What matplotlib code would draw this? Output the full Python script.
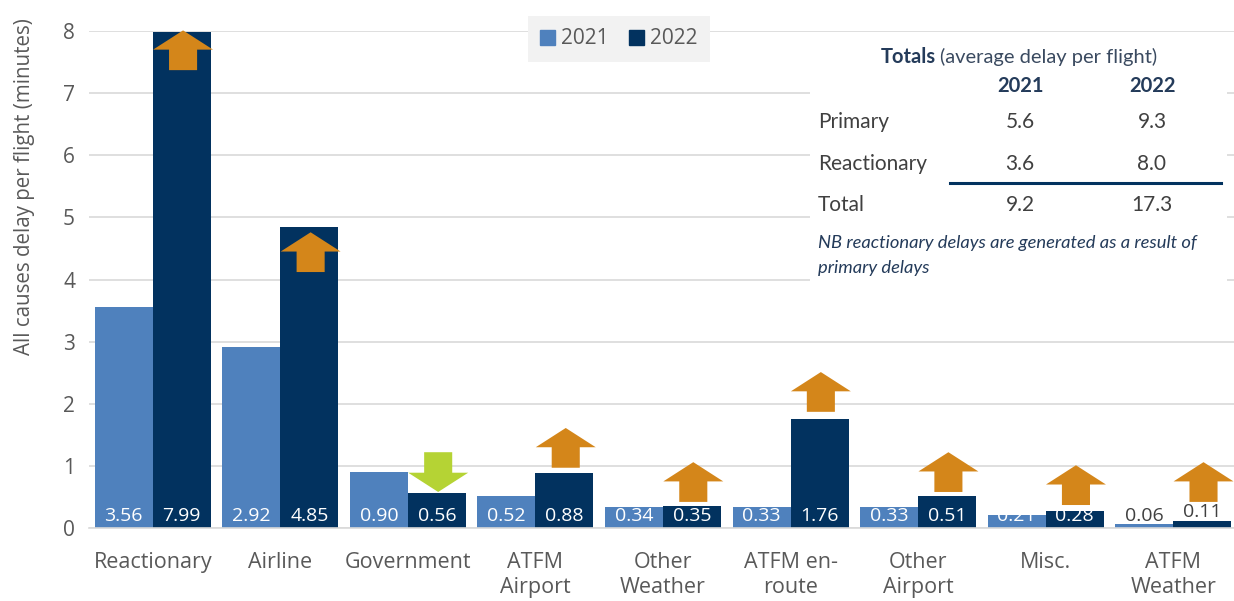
import numpy as np
import matplotlib
matplotlib.use("Agg")
import matplotlib.pyplot as plt
from matplotlib.patches import Polygon, Rectangle, Patch

categories = ["Reactionary", "Airline", "Government", "ATFM\nAirport", "Other\nWeather",
              "ATFM en-\nroute", "Other\nAirport", "Misc.", "ATFM\nWeather"]
delay_2021 = [3.56, 2.92, 0.90, 0.52, 0.34, 0.33, 0.33, 0.21, 0.06]
delay_2022 = [7.99, 4.85, 0.56, 0.88, 0.35, 1.76, 0.51, 0.28, 0.11]
# base of each change arrow (minutes) and its direction
arrow_base = [7.37, 4.12, 1.22, 0.97, 0.42, 1.87, 0.58, 0.37, 0.42]
arrow_dir = ["up", "up", "down", "up", "up", "up", "up", "up", "up"]

totals_rows = ["Primary", "Reactionary", "Total"]
totals_2021 = ["5.6", "3.6", "9.2"]
totals_2022 = ["9.3", "8.0", "17.3"]

C21 = "#4F81BD"
C22 = "#02325F"
UP = "#D4861A"
DOWN = "#B5D334"
GREY = "#595959"
INK = "#243B5A"

plt.rcParams["font.family"] = ["Open Sans", "DejaVu Sans"]

W, H = 1234, 601
fig = plt.figure(figsize=(W / 100, H / 100), dpi=100)


def fx(px):
    return px / W


def fy(py):
    return 1 - py / H


ax = fig.add_axes([fx(89), fy(528), fx(1237 - 89), (528 - 31) / H])

x = np.arange(len(categories))
bw = 0.455
ax.bar(x - bw / 2, delay_2021, bw, color=C21, zorder=2, label="2021")
ax.bar(x + bw / 2, delay_2022, bw, color=C22, zorder=2, label="2022")

for i, (a, b) in enumerate(zip(delay_2021, delay_2022)):
    small = b < 0.2
    col = "#404040" if small else "white"
    ax.text(i - bw / 2, 0.2, f"{a:.2f}", ha="center", va="center", color=col, fontsize=14, zorder=4)
    ax.text(i + bw / 2, 0.26 if small else 0.2, f"{b:.2f}", ha="center", va="center",
            color=col, fontsize=14, zorder=4)

# block arrows showing the change from 2021 to 2022
hw, sw, hh, th = 0.235, 0.11, 0.31, 0.64
for i, (base, d) in enumerate(zip(arrow_base, arrow_dir)):
    cx = i + bw / 2 + 0.01
    if d == "up":
        pts = [(cx - sw, base), (cx + sw, base), (cx + sw, base + th - hh), (cx + hw, base + th - hh),
               (cx, base + th), (cx - hw, base + th - hh), (cx - sw, base + th - hh)]
        col = UP
    else:
        pts = [(cx - sw, base), (cx + sw, base), (cx + sw, base - th + hh), (cx + hw, base - th + hh),
               (cx, base - th), (cx - hw, base - th + hh), (cx - sw, base - th + hh)]
        col = DOWN
    ax.add_patch(Polygon(pts, closed=True, facecolor=col, edgecolor="none", zorder=3, clip_on=False))

ax.set_xlim(-0.5, 8.5)
ax.set_ylim(0, 8)
ax.set_yticks(range(0, 9))
ax.set_xticks(x)
ax.set_xticklabels(categories, fontsize=15.5, color=GREY, linespacing=1.3)
ax.tick_params(axis="y", labelsize=15, colors=GREY, length=0, pad=10)
ax.tick_params(axis="x", length=0, pad=17)
ax.grid(axis="y", color="#D9D9D9", linewidth=1.2, zorder=0)
for s in ["top", "right", "left"]:
    ax.spines[s].set_visible(False)
ax.spines["bottom"].set_color("#D9D9D9")
ax.spines["bottom"].set_linewidth(1.2)
ax.set_ylabel("All causes delay per flight (minutes)", fontsize=14.8, color=GREY)
ax.yaxis.set_label_coords(-0.047, 0.686)

leg = ax.legend(handles=[Patch(color=C21, label="2021"), Patch(color=C22, label="2022")],
                ncol=2, loc="center", bbox_to_anchor=(fx(619), fy(39)), bbox_transform=fig.transFigure,
                fontsize=15, frameon=True, facecolor="#F2F2F2", edgecolor="none", fancybox=False,
                handlelength=0.7, handleheight=0.7, handletextpad=0.3, columnspacing=1.0,
                borderpad=0.6, labelcolor=GREY)
leg.get_frame().set_alpha(1)
leg.set_zorder(6)

# totals panel
fig.patches.append(Rectangle((fx(810), fy(290)), fx(1227 - 810), (290 - 36) / H,
                             transform=fig.transFigure, facecolor="white", edgecolor="none", zorder=5))
tf = ["Lato", "DejaVu Sans"]
fig.text(fx(936), fy(57), "Totals", ha="right", va="center", fontsize=14.5, color=INK,
         fontweight="bold", family=tf, zorder=6)
fig.text(fx(940), fy(57), "(average delay per flight)", ha="left", va="center", fontsize=14.5,
         color="#3A4A60", family=tf, zorder=6)
fig.text(fx(1020), fy(86), "2021", ha="center", va="center", fontsize=14.5, color=INK,
         fontweight="bold", family=tf, zorder=6)
fig.text(fx(1152), fy(86), "2022", ha="center", va="center", fontsize=14.5, color=INK,
         fontweight="bold", family=tf, zorder=6)
for k, (row, a, b) in enumerate(zip(totals_rows, totals_2021, totals_2022)):
    yy = fy(122 + 41.5 * k)
    fig.text(fx(818), yy, row, ha="left", va="center", fontsize=15, color="#404040", family=tf, zorder=6)
    fig.text(fx(1020), yy, a, ha="center", va="center", fontsize=15, color="#404040", family=tf, zorder=6)
    fig.text(fx(1152), yy, b, ha="center", va="center", fontsize=15, color="#404040", family=tf, zorder=6)
fig.add_artist(plt.Line2D([fx(950), fx(1221)], [fy(183), fy(183)], transform=fig.transFigure,
                          color=C22, linewidth=2.2, zorder=6))
fig.text(fx(818), fy(243), "NB reactionary delays are generated as a result of", ha="left", va="center",
         fontsize=13.2, style="italic", color=INK, family=tf, zorder=6)
fig.text(fx(818), fy(268), "primary delays", ha="left", va="center",
         fontsize=13.2, style="italic", color=INK, family=tf, zorder=6)

fig.savefig("out.png", dpi=100, facecolor="white")
